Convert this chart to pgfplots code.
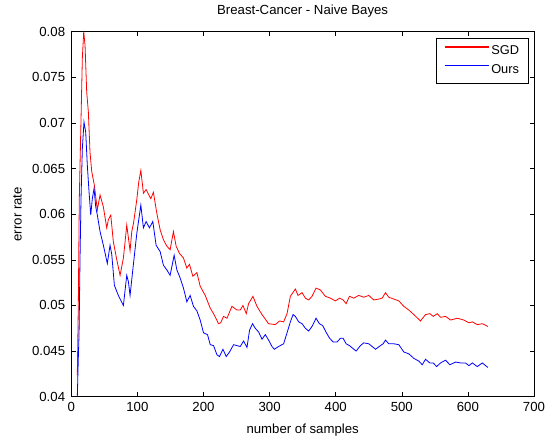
\documentclass[border=0pt]{standalone}
\usepackage{fontspec}
\setmainfont{Liberation Sans}
\usepackage{pgfplots}
\pgfplotsset{compat=1.18}
\begin{document}
\begin{tikzpicture}
\begin{axis}[
  scale only axis,
  width=462.7bp, height=365bp,
  xmin=0, xmax=700, ymin=0.04, ymax=0.08,
  xtick={0,100,...,700},
  xticklabels={0,100,200,300,400,500,600,700},
  ytick={0.04,0.045,0.05,0.055,0.06,0.065,0.07,0.075,0.08},
  yticklabels={0.04,0.045,0.05,0.055,0.06,0.065,0.07,0.075,0.08},
  scaled y ticks=false, scaled x ticks=false,
  font=\fontsize{13.2bp}{15bp}\selectfont,
  tick label style={font=\fontsize{13.2bp}{15bp}\selectfont},
  xticklabel style={anchor=base, inner sep=0pt, yshift=-14.3bp},
  yticklabel style={anchor=east, inner sep=0pt, xshift=-6bp},
  tick align=inside,
  major tick length=4.5bp,
  axis line style={line width=0.6bp},
  every tick/.style={black, line width=0.6bp},
  title={Breast-Cancer - Naive Bayes},
  title style={at={(axis description cs:0.5,1.03205)}, anchor=base, inner sep=0pt},
  xlabel={number of samples},
  xlabel style={at={(axis description cs:0.5,-0.10027)}, anchor=base, inner sep=0pt},
  ylabel={error rate},
  every axis y label/.style={at={(axis description cs:-0.1072,0.5)}, rotate=90, anchor=base, inner sep=0pt},
  legend cell align=left,
  legend image code/.code={\draw[#1, line width=1.5bp] (0bp,4bp) -- (44bp,4bp);},
  legend style={at={(axis description cs:0.9877,0.9836)}, anchor=north east,
    draw=black, line width=0.6bp, inner xsep=7bp, inner ysep=6bp, row sep=4bp,
    font=\fontsize{12.8bp}{15bp}\selectfont},
]
\addplot[red, line width=0.8bp] coordinates {
(9.1,0.0424)(10.6,0.0500)(12.1,0.0617)(14.2,0.0687)(16.7,0.0771)(18.8,0.0800)(20.8,0.0785)
(23.3,0.0734)(25.8,0.0712)(28.3,0.0668)(30.9,0.0647)(34.8,0.0632)(39.4,0.0605)(43.5,0.0621)
(48.5,0.0608)(53.6,0.0585)(56.1,0.0594)(59.7,0.0599)(63.6,0.0570)(68.8,0.0550)(73.8,0.0533)
(78.8,0.0552)(81.4,0.0570)(83.9,0.0588)(86.4,0.0574)(88.9,0.0560)(91.5,0.0581)(94.1,0.0590)
(99.1,0.0616)(102,0.0635)(105.2,0.0648)(109.1,0.0623)(113.2,0.0627)(116.7,0.0622)(120.3,0.0617)
(124.2,0.0624)(129.4,0.0601)(134.4,0.0583)(139.4,0.0572)(144.5,0.0565)(149.5,0.0561)(154.5,0.0581)
(158.6,0.0565)(163.6,0.0557)(169.7,0.0552)(174.8,0.0541)(178.8,0.0545)(183.9,0.0532)(190,0.0536)
(195,0.0521)(202.6,0.0511)(210.2,0.0497)(216,0.0490)(222.7,0.0480)(226,0.0481)(230.3,0.0488)
(235.5,0.0486)(243,0.0499)(250.6,0.0495)(255.6,0.0495)(259.7,0.0500)(264.7,0.0491)(268.2,0.0502)
(274.8,0.0510)(280.9,0.0499)(288.5,0.0490)(298.5,0.0480)(308.6,0.0479)(315.2,0.0483)(321.2,0.0482)
(326.4,0.0491)(331.4,0.0510)(339,0.0518)(343,0.0511)(349.1,0.0514)(354.1,0.0508)(359.1,0.0506)
(364.2,0.0510)(370.3,0.0519)(376.8,0.0517)(384.4,0.0510)(392,0.0508)(399.5,0.0505)(406,0.0508)
(411.2,0.0506)(415.8,0.0502)(420.8,0.0510)(427.3,0.0508)(434.8,0.0511)(442.4,0.0509)(450,0.0511)
(457.6,0.0506)(465.2,0.0507)(470.3,0.0508)(475.3,0.0514)(480.3,0.0509)(487.9,0.0507)(495.5,0.0505)
(503,0.0499)(510.6,0.0495)(518.2,0.0490)(528.3,0.0483)(535.9,0.0490)(542.4,0.0491)(547.6,0.0488)
(553.6,0.0491)(558.6,0.0487)(566.2,0.0488)(573.8,0.0484)(583.9,0.0486)(593.9,0.0484)(601.5,0.0481)
(606.7,0.0482)(614.2,0.0479)(621.8,0.0480)(630.3,0.0477)
};
\addlegendentry{SGD}
\addplot[blue, line width=0.8bp] coordinates {
(9.1,0.0400)(10.6,0.0442)(11.7,0.0468)(13.2,0.0552)(14.7,0.0617)(16.7,0.0672)(19.2,0.0701)
(21.8,0.0690)(24.2,0.0654)(26.8,0.0625)(29.4,0.0599)(31.8,0.0617)(34.4,0.0628)(37,0.0608)
(39.4,0.0599)(43.5,0.0581)(48.5,0.0566)(54.5,0.0546)(58.6,0.0566)(61.2,0.0556)(65.2,0.0522)
(71.2,0.0511)(78.8,0.0500)(83.9,0.0533)(86.4,0.0526)(88.9,0.0511)(94.1,0.0546)(99.1,0.0579)
(105.2,0.0610)(109.1,0.0585)(113.2,0.0592)(118.2,0.0585)(123.3,0.0592)(128.3,0.0566)(134.4,0.0559)
(139.4,0.0544)(144.5,0.0539)(149.5,0.0533)(155.6,0.0555)(159.7,0.0539)(164.7,0.0530)(169.7,0.0519)
(174.8,0.0504)(179.8,0.0511)(184.8,0.0499)(190,0.0494)(195,0.0484)(200,0.0470)(206.1,0.0468)
(210.2,0.0457)(215.2,0.0456)(220.3,0.0446)(224.2,0.0444)(229.4,0.0452)(234.4,0.0444)(239.4,0.0449)
(245.5,0.0457)(250.6,0.0456)(255.6,0.0455)(260.6,0.0461)(265.8,0.0454)(269.7,0.0473)(274.2,0.0480)
(278.3,0.0475)(283.3,0.0471)(288.5,0.0463)(293.5,0.0468)(298.5,0.0462)(303.6,0.0455)(307.1,0.0452)
(313.6,0.0455)(321.2,0.0458)(326.4,0.0470)(331.4,0.0482)(335.5,0.0490)(339,0.0488)(344,0.0482)
(349.1,0.0480)(354.1,0.0475)(359.1,0.0472)(364.2,0.0477)(370.3,0.0486)(375.3,0.0480)(380.3,0.0478)
(385.9,0.0470)(390.9,0.0464)(396.1,0.0460)(402.1,0.0460)(407.1,0.0464)(411.2,0.0464)(415.8,0.0458)
(420.8,0.0456)(425.8,0.0453)(430.9,0.0450)(437.4,0.0456)(442.4,0.0459)(450,0.0458)(455.2,0.0455)
(460.2,0.0452)(467.7,0.0456)(471.8,0.0458)(475.3,0.0462)(480.3,0.0458)(487.9,0.0458)(495.5,0.0457)
(503,0.0449)(510.6,0.0447)(518.2,0.0442)(525.8,0.0439)(530.9,0.0435)(535.9,0.0441)(542.4,0.0437)
(547.6,0.0437)(552.6,0.0433)(558.6,0.0437)(566.2,0.0440)(572.7,0.0435)(581.4,0.0438)(589,0.0437)
(596.5,0.0437)(601.5,0.0434)(606.7,0.0437)(614.2,0.0433)(621.8,0.0437)(630.3,0.0432)
};
\addlegendentry{Ours}
\coordinate (bbsw) at (axis description cs:-0.1541,-0.11315);
\coordinate (bbne) at (axis description cs:1.03458,1.08685);
\end{axis}
\useasboundingbox (bbsw) rectangle (bbne);
\end{tikzpicture}
\end{document}
